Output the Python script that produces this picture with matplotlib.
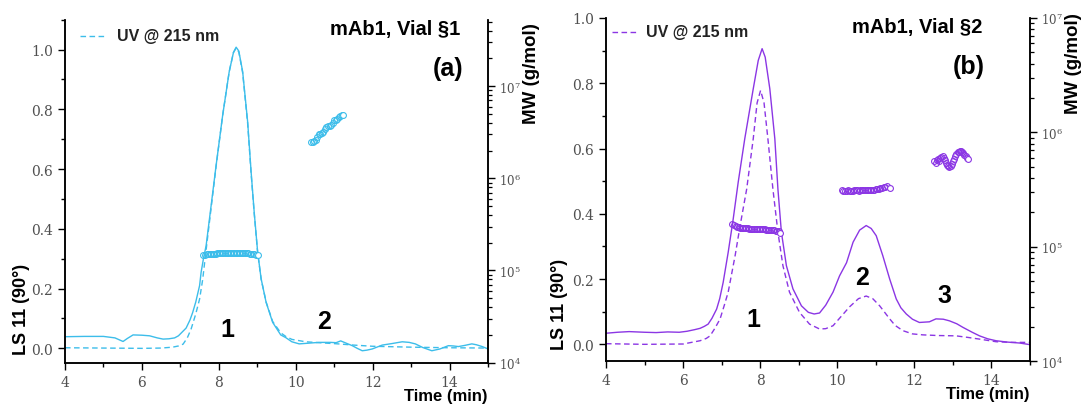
import matplotlib
matplotlib.use("Agg")
import matplotlib.pyplot as plt
from matplotlib.lines import Line2D
from matplotlib.ticker import MultipleLocator, LogLocator, NullFormatter

plt.rcParams['mathtext.fontset'] = 'dejavuserif'

# ---------------- data: panel (a) ----------------
ls_a_t = [4.00, 4.50, 5.00, 5.30, 5.51, 5.62, 5.77, 6.00, 6.20, 6.40, 6.55, 6.70, 6.85, 6.95,
          7.05, 7.15, 7.25, 7.32, 7.40, 7.50, 7.54, 7.60, 7.67, 7.80, 7.93, 8.10, 8.27, 8.38,
          8.45, 8.52, 8.62, 8.75, 8.84, 8.92, 9.01, 9.10, 9.23, 9.40, 9.61, 9.74, 9.90, 10.09,
          10.30, 10.60, 10.90, 11.05, 11.17, 11.30, 11.47, 11.60, 11.73, 11.85, 11.99, 12.25,
          12.50, 12.77, 12.95, 13.11, 13.30, 13.54, 13.75, 13.97, 14.10, 14.23, 14.40, 14.58,
          14.70, 14.85, 15.00]
ls_a_v = [0.039, 0.040, 0.040, 0.035, 0.023, 0.033, 0.045, 0.044, 0.042, 0.035, 0.031, 0.032,
          0.035, 0.042, 0.055, 0.068, 0.095, 0.120, 0.155, 0.210, 0.255, 0.300, 0.344, 0.478,
          0.613, 0.780, 0.926, 0.990, 1.008, 0.995, 0.926, 0.758, 0.590, 0.456, 0.322, 0.233,
          0.154, 0.087, 0.045, 0.036, 0.022, 0.015, 0.017, 0.020, 0.020, 0.019, 0.025, 0.018,
          0.009, 0.000, -0.008, -0.006, -0.002, 0.011, 0.016, 0.022, 0.020, 0.015, 0.003,
          -0.008, -0.002, 0.009, 0.008, 0.006, 0.010, 0.015, 0.012, 0.006, -0.002]

uv_a_t = [4.00, 5.00, 6.00, 6.50, 6.80, 6.95, 7.07, 7.18, 7.28, 7.40, 7.50, 7.58, 7.67, 7.80,
          7.93, 8.10, 8.27, 8.38, 8.45, 8.52, 8.62, 8.75, 8.84, 8.92, 9.01, 9.10, 9.23, 9.40,
          9.61, 9.74, 9.90, 10.26, 10.60, 11.10, 11.50, 12.00, 13.00, 14.00, 15.00]
uv_a_v = [0.002, 0.001, 0.000, 0.001, 0.004, 0.008, 0.014, 0.035, 0.065, 0.115, 0.165, 0.230,
          0.330, 0.470, 0.610, 0.780, 0.926, 0.990, 1.005, 0.992, 0.922, 0.752, 0.585, 0.452,
          0.320, 0.232, 0.155, 0.090, 0.052, 0.040, 0.030, 0.022, 0.019, 0.015, 0.011, 0.007,
          0.004, 0.002, 0.001]

mw_a1_t = [7.60, 7.64, 7.68, 7.72, 7.76, 7.80, 7.84, 7.88, 7.92, 7.96, 8.00, 8.04, 8.08, 8.12,
           8.16, 8.20, 8.24, 8.28, 8.32, 8.36, 8.40, 8.44, 8.48, 8.52, 8.56, 8.60, 8.64, 8.68,
           8.72, 8.76, 8.80, 8.84, 8.88, 8.92, 8.96, 9.02]
mw_a1_v = [148e3, 149e3, 150e3, 150e3, 151e3, 151e3, 152e3, 152e3, 152e3, 153e3, 153e3, 153e3,
           154e3, 154e3, 154e3, 154e3, 155e3, 155e3, 155e3, 155e3, 155e3, 155e3, 155e3, 155e3,
           154e3, 154e3, 154e3, 154e3, 153e3, 153e3, 152e3, 152e3, 151e3, 150e3, 149e3, 147e3]

mw_a2_t = [10.40, 10.44, 10.48, 10.52, 10.56, 10.60, 10.64, 10.68, 10.72, 10.76, 10.80, 10.84,
           10.88, 10.92, 10.96, 11.00, 11.04, 11.08, 11.12, 11.16, 11.20, 11.24]
mw_a2_v = [2.45e6, 2.50e6, 2.55e6, 2.60e6, 2.80e6, 3.00e6, 3.05e6, 3.10e6, 3.15e6, 3.40e6,
           3.60e6, 3.65e6, 3.70e6, 3.75e6, 4.00e6, 4.25e6, 4.30e6, 4.40e6, 4.60e6, 4.75e6,
           4.80e6, 4.80e6]

# ---------------- data: panel (b) ----------------
ls_b_t = [4.00, 4.30, 4.60, 5.00, 5.30, 5.60, 5.90, 6.10, 6.30, 6.44, 6.55, 6.65, 6.75, 6.87,
          6.95, 7.04, 7.17, 7.30, 7.43, 7.60, 7.82, 7.95, 8.05, 8.13, 8.25, 8.38, 8.46, 8.55,
          8.68, 8.85, 9.07, 9.25, 9.40, 9.54, 9.70, 9.89, 10.06, 10.24, 10.41, 10.58, 10.75,
          10.88, 11.01, 11.18, 11.36, 11.53, 11.65, 11.79, 11.95, 12.13, 12.39, 12.56, 12.75,
          12.91, 13.10, 13.26, 13.50, 13.69, 13.90, 14.12, 14.40, 14.73, 15.00]
ls_b_v = [0.034, 0.037, 0.039, 0.037, 0.036, 0.038, 0.037, 0.040, 0.045, 0.049, 0.055, 0.062,
          0.080, 0.108, 0.140, 0.190, 0.282, 0.384, 0.497, 0.630, 0.783, 0.870, 0.906, 0.880,
          0.783, 0.630, 0.476, 0.344, 0.241, 0.170, 0.118, 0.098, 0.093, 0.096, 0.120, 0.160,
          0.210, 0.250, 0.313, 0.350, 0.364, 0.355, 0.333, 0.272, 0.200, 0.139, 0.112, 0.093,
          0.077, 0.067, 0.069, 0.078, 0.077, 0.072, 0.063, 0.052, 0.037, 0.026, 0.017, 0.011,
          0.007, 0.004, -0.001]

uv_b_t = [4.00, 5.00, 6.00, 6.44, 6.60, 6.70, 6.83, 6.96, 7.07, 7.17, 7.35, 7.48, 7.65, 7.82,
          7.92, 8.01, 8.10, 8.20, 8.33, 8.46, 8.59, 8.76, 9.02, 9.28, 9.54, 9.70, 9.89, 10.06,
          10.32, 10.55, 10.75, 10.92, 11.10, 11.36, 11.50, 11.70, 11.95, 12.22, 12.60, 13.08,
          13.40, 13.69, 14.12, 14.50, 15.00]
uv_b_v = [0.002, 0.000, 0.001, 0.011, 0.018, 0.026, 0.050, 0.078, 0.120, 0.160, 0.272, 0.364,
          0.476, 0.630, 0.740, 0.778, 0.740, 0.630, 0.476, 0.344, 0.241, 0.160, 0.098, 0.062,
          0.047, 0.048, 0.057, 0.080, 0.115, 0.140, 0.148, 0.140, 0.118, 0.078, 0.058, 0.042,
          0.032, 0.029, 0.027, 0.026, 0.021, 0.016, 0.008, 0.006, 0.006]

mw_b1_t = [7.28, 7.32, 7.36, 7.40, 7.44, 7.48, 7.52, 7.56, 7.60, 7.64, 7.68, 7.72, 7.76, 7.80,
           7.84, 7.88, 7.92, 7.96, 8.00, 8.04, 8.08, 8.12, 8.16, 8.20, 8.24, 8.28, 8.32, 8.36,
           8.40, 8.44, 8.48, 8.52]
mw_b1_v = [158e3, 155e3, 152e3, 150e3, 148e3, 147e3, 146e3, 146e3, 145e3, 145e3, 145e3, 144e3,
           144e3, 144e3, 143e3, 143e3, 143e3, 143e3, 142e3, 142e3, 142e3, 142e3, 141e3, 141e3,
           141e3, 140e3, 140e3, 140e3, 139e3, 139e3, 138e3, 133e3]

mw_b2_t = [10.12, 10.16, 10.20, 10.24, 10.28, 10.32, 10.36, 10.40, 10.44, 10.48, 10.52, 10.56,
           10.60, 10.64, 10.68, 10.72, 10.76, 10.80, 10.84, 10.88, 10.92, 10.96, 11.00, 11.04,
           11.08, 11.12, 11.16, 11.20, 11.24, 11.28, 11.36]
mw_b2_v = [312e3, 310e3, 309e3, 310e3, 311e3, 310e3, 309e3, 310e3, 311e3, 312e3, 311e3, 310e3,
           311e3, 312e3, 313e3, 312e3, 313e3, 314e3, 315e3, 316e3, 316e3, 317e3, 318e3, 320e3,
           322e3, 325e3, 328e3, 332e3, 336e3, 340e3, 328e3]

mw_b3_t = [12.52, 12.55, 12.58, 12.61, 12.64, 12.67, 12.70, 12.73, 12.76, 12.79, 12.82, 12.85,
           12.88, 12.91, 12.94, 12.97, 13.00, 13.03, 13.06, 13.09, 13.12, 13.15, 13.18, 13.21,
           13.24, 13.27, 13.30, 13.33, 13.36, 13.40]
mw_b3_v = [560e3, 540e3, 575e3, 590e3, 560e3, 600e3, 610e3, 620e3, 600e3, 570e3, 540e3, 520e3,
           505e3, 500e3, 510e3, 530e3, 560e3, 590e3, 620e3, 650e3, 670e3, 680e3, 690e3, 690e3,
           680e3, 660e3, 640e3, 620e3, 600e3, 590e3]

peak_labels_a = ["1", "2"]
peak_pos_a = [(8.23, 0.065), (10.74, 0.093)]
peak_labels_b = ["1", "2", "3"]
peak_pos_b = [(7.82, 0.078), (10.65, 0.205), (12.78, 0.150)]

# ---------------- styling ----------------
CYAN = '#3cbdea'
PURPLE = '#8b36e4'
W, H = 1085, 406
SANS = 'Liberation Sans'
SERIF = 'DejaVu Serif'
TICKCOL = '#505050'

fig = plt.figure(figsize=(W / 100, H / 100), dpi=100)


def fx(px):
    return px / W


def fy(py):
    return 1 - py / H


def style_axes(ax, ax2, ymin, ymax, mwmax):
    ax.set_xlim(4, 15)
    ax.set_ylim(ymin, ymax)
    ax2.set_ylim(1e4, mwmax)
    ax2.set_yscale('log')
    for a in (ax, ax2):
        a.spines['top'].set_visible(False)
        for s in a.spines.values():
            s.set_linewidth(1.1)
        a.patch.set_visible(False)
    ax.xaxis.set_major_locator(MultipleLocator(2))
    ax.xaxis.set_minor_locator(MultipleLocator(1))
    ax.yaxis.set_major_locator(MultipleLocator(0.2))
    ax.yaxis.set_minor_locator(MultipleLocator(0.1))
    ax.tick_params(which='major', direction='out', length=5, width=1.0, labelsize=10,
                   labelcolor=TICKCOL, pad=3.5)
    ax.tick_params(which='minor', direction='out', length=3, width=1.0)
    ax2.yaxis.set_major_locator(LogLocator(base=10, numticks=10))
    ax2.yaxis.set_minor_locator(LogLocator(base=10, subs=range(2, 10), numticks=20))
    ax2.yaxis.set_minor_formatter(NullFormatter())
    ax2.tick_params(which='major', direction='out', length=5, width=1.0, labelsize=8.5,
                    labelcolor=TICKCOL, pad=3)
    ax2.tick_params(which='minor', direction='out', length=3, width=0.9)
    for lab in ax.get_xticklabels() + ax.get_yticklabels() + ax2.get_yticklabels():
        lab.set_fontfamily(SERIF)


def mw_series(ax2, t, v, color):
    ax2.plot(t[:-1], v[:-1], ls='none', marker='o', ms=4.2, mfc='none', mec=color, mew=0.8)
    ax2.plot(t[-1:], v[-1:], ls='none', marker='o', ms=4.2, mfc='white', mec=color, mew=0.8)


# ---------- panel (a) ----------
axa = fig.add_axes([fx(65), fy(363.7), fx(488 - 65), (363.7 - 20.7) / H])
axa2 = axa.twinx()
axa.plot(ls_a_t, ls_a_v, color=CYAN, lw=1.0)
axa.plot(uv_a_t, uv_a_v, color=CYAN, lw=1.0, ls=(0, (4, 2.5)))
mw_series(axa2, mw_a1_t, mw_a1_v, CYAN)
mw_series(axa2, mw_a2_t, mw_a2_v, CYAN)
style_axes(axa, axa2, -0.048, 1.10, 10 ** 7.72)
for lab, (xx, yy) in zip(peak_labels_a, peak_pos_a):
    axa.text(xx, yy, lab, fontsize=18, fontweight='bold', family=SANS, ha='center', va='center')

# ---------- panel (b) ----------
axb = fig.add_axes([fx(606), fy(362.3), fx(1030 - 606), (362.3 - 19) / H])
axb2 = axb.twinx()
axb.plot(ls_b_t, ls_b_v, color=PURPLE, lw=1.0)
axb.plot(uv_b_t, uv_b_v, color=PURPLE, lw=1.0, ls=(0, (4, 2.5)))
mw_series(axb2, mw_b1_t, mw_b1_v, PURPLE)
mw_series(axb2, mw_b2_t, mw_b2_v, PURPLE)
mw_series(axb2, mw_b3_t, mw_b3_v, PURPLE)
style_axes(axb, axb2, -0.052, 1.0, 1e7)
for lab, (xx, yy) in zip(peak_labels_b, peak_pos_b):
    axb.text(xx, yy, lab, fontsize=18, fontweight='bold', family=SANS, ha='center', va='center')


# ---------- figure texts ----------
def label_block(x_ls, ybot_ls, x_mw, ytop_mw, x_time, y_time, title, tx, ty, tag, gx, gy,
                lx0, lx1, ly, txt_x, color):
    fig.text(fx(x_ls), fy(ybot_ls), 'LS 11 (90°)', rotation=90, ha='center', va='bottom',
             fontsize=13, fontweight='bold', family=SANS)
    fig.text(fx(x_mw), fy(ytop_mw), 'MW (g/mol)', rotation=90, ha='center', va='top',
             fontsize=13.5, fontweight='bold', family=SANS)
    fig.text(fx(x_time), fy(y_time), 'Time (min)', ha='right', va='center',
             fontsize=12, fontweight='bold', family=SANS)
    fig.text(fx(tx), fy(ty), title, ha='right', va='center', fontsize=14.5,
             fontweight='bold', family=SANS)
    fig.text(fx(gx), fy(gy), tag, ha='right', va='center', fontsize=18, fontweight='bold',
             family=SANS)
    fig.add_artist(Line2D([fx(lx0), fx(lx1)], [fy(ly), fy(ly)], transform=fig.transFigure,
                          color=color, lw=1.0, ls=(0, (4, 2.5))))
    fig.text(fx(txt_x), fy(ly), 'UV @ 215 nm', ha='left', va='center', fontsize=11.5,
             fontweight='bold', family=SANS, color='#222222')


label_block(21.7, 355, 532, 23, 488, 397, 'mAb1, Vial §1', 460, 30, '(a)', 463, 69,
            80, 106, 37, 117, CYAN)
label_block(560, 350, 1074, 13, 1030, 395, 'mAb1, Vial §2', 982, 27, '(b)', 985, 67,
            612, 638, 33, 646, PURPLE)

fig.savefig('out.png', dpi=100)
